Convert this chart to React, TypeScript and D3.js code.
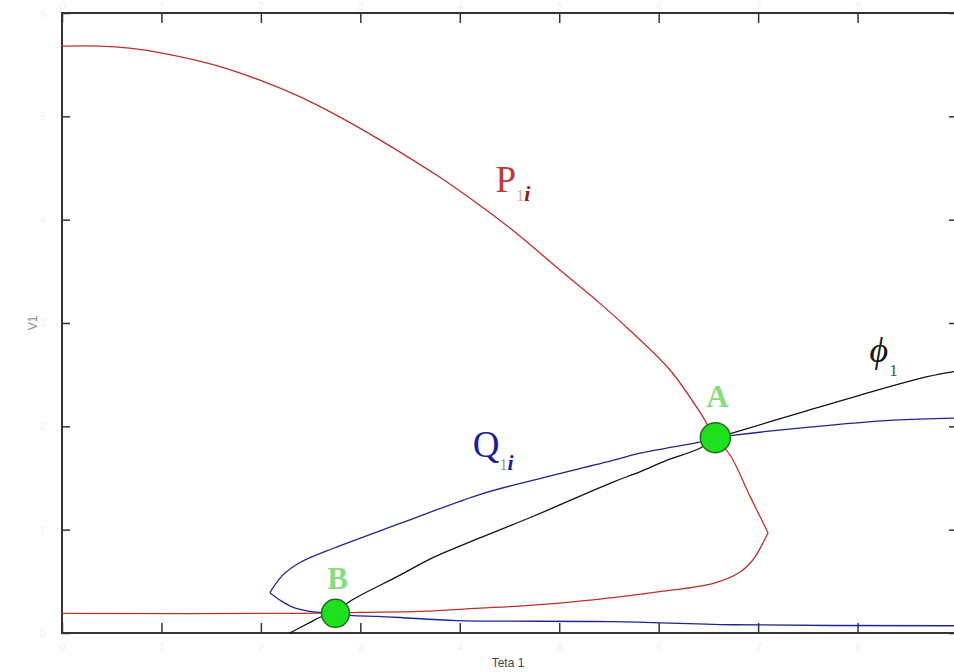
import React, { useRef, useEffect } from 'react';
import * as d3 from 'd3';

// curves (Teta 1 on x, V1 on y, arbitrary units)
const pCurve: [number, number][] = [
  [0, 5.68], [0.38, 5.68], [0.68, 5.66], [1.02, 5.61], [1.52, 5.5], [1.99, 5.35],
  [2.39, 5.19], [2.8, 4.99], [3.2, 4.77], [3.8, 4.41], [4.2, 4.14], [4.53, 3.9],
  [5.01, 3.51], [5.41, 3.19], [5.71, 2.93], [6.11, 2.55], [6.42, 2.13], [6.57, 1.89],
  [6.72, 1.72], [6.92, 1.32], [7.1, 0.97], [6.95, 0.71], [6.82, 0.59], [6.55, 0.48],
  [6.01, 0.4], [5.34, 0.32], [4.74, 0.27], [4.2, 0.24], [3.6, 0.21], [3.0, 0.2],
  [2.39, 0.19], [0, 0.19],
];

const qCurve: [number, number][] = [
  [8.97, 2.08], [8.36, 2.06], [7.49, 1.99], [6.72, 1.91], [6.57, 1.89], [6.42, 1.85],
  [6.08, 1.79], [5.81, 1.74], [5.54, 1.67], [4.74, 1.48], [4.2, 1.34], [3.4, 1.06],
  [2.73, 0.82], [2.39, 0.68], [2.22, 0.56], [2.09, 0.39], [2.19, 0.32], [2.32, 0.25],
  [2.49, 0.21], [2.75, 0.19], [2.9, 0.17], [3.17, 0.16], [3.4, 0.15], [3.97, 0.12],
  [5.54, 0.11], [6.75, 0.08], [8.97, 0.07],
];

const phiCurve: [number, number][] = [
  [2.29, 0], [2.49, 0.1], [2.59, 0.15], [2.75, 0.2], [2.9, 0.31], [3.4, 0.56],
  [3.73, 0.73], [4.2, 0.92], [4.74, 1.13], [5.54, 1.46], [5.81, 1.56], [6.08, 1.67],
  [6.42, 1.79], [6.57, 1.89], [6.72, 1.93], [7.42, 2.13], [8.02, 2.3], [8.7, 2.48],
  [8.97, 2.53],
];

const points = [
  { name: 'A', x: 6.57, y: 1.89 },
  { name: 'B', x: 2.75, y: 0.19 },
];

const xTicks = [0, 1, 2, 3, 4, 5, 6, 7, 8, 9];
const xTickLabels = ['0', '1', '2', '3', '4', '5', '6', '7', '8', ''];
const yTicks = [0, 1, 2, 3, 4, 5, 6];
const yTickLabels = ['0', '1', '2', '3', '4', '5', '6'];

const App = () => {
  const svgRef = useRef<SVGSVGElement>(null);

  useEffect(() => {
    const svg = d3.select(svgRef.current);
    svg.selectAll('*').remove();

    const width = 954;
    const height = 672;
    const margin = { top: 13, right: -3, bottom: 39, left: 62 };
    const innerWidth = width - margin.left - margin.right;
    const innerHeight = height - margin.top - margin.bottom;

    svg.attr('width', width).attr('height', height);

    const g = svg.append('g').attr('transform', `translate(${margin.left},${margin.top})`);

    const x = d3.scaleLinear().domain([0, 9]).range([0, innerWidth]);
    const y = d3.scaleLinear().domain([0, 6]).range([innerHeight, 0]);

    const faint = '#f2f2f2';
    const fmtX = (d: any) => xTickLabels[xTicks.indexOf(d)];
    const fmtY = (d: any) => yTickLabels[yTicks.indexOf(d)];

    const styleAxis = (sel: any) => {
      sel.select('.domain').remove();
      sel.selectAll('line').attr('stroke', '#333').attr('stroke-width', 1.5);
      sel.selectAll('text').attr('fill', faint).style('font-family', 'Liberation Sans, Arial, sans-serif').style('font-size', '11px');
    };

    g.append('g').attr('transform', `translate(0,${innerHeight})`)
      .call(d3.axisBottom(x).tickValues(xTicks).tickSize(-10).tickSizeOuter(0).tickPadding(10).tickFormat(fmtX))
      .call(styleAxis);
    g.append('g')
      .call(d3.axisTop(x).tickValues(xTicks).tickSize(-10).tickSizeOuter(0).tickPadding(3).tickFormat(fmtX))
      .call(styleAxis);
    g.append('g')
      .call(d3.axisLeft(y).tickValues(yTicks).tickSize(-8).tickSizeOuter(0).tickPadding(16).tickFormat(fmtY))
      .call(styleAxis);
    g.append('g').attr('transform', `translate(${innerWidth},0)`)
      .call(d3.axisRight(y).tickValues(yTicks).tickSize(-8).tickSizeOuter(0).tickFormat(() => ''))
      .call(styleAxis);

    // frame
    g.append('rect')
      .attr('x', 0).attr('y', 0)
      .attr('width', innerWidth).attr('height', innerHeight)
      .attr('fill', 'none').attr('stroke', '#333').attr('stroke-width', 2);

    const line = d3.line<[number, number]>()
      .x((d) => x(d[0]))
      .y((d) => y(d[1]))
      .curve(d3.curveCatmullRom.alpha(0.5));

    // split the curves at their turning points so the tips stay sharp
    const pTip = d3.maxIndex(pCurve, (d) => d[0]);
    const qTip = d3.minIndex(qCurve, (d) => d[0]);
    const segments = [
      { data: pCurve.slice(0, pTip + 1), color: '#b8302c' },
      { data: pCurve.slice(pTip), color: '#b8302c' },
      { data: qCurve.slice(0, qTip + 1), color: '#24248e' },
      { data: qCurve.slice(qTip), color: '#24248e' },
      { data: phiCurve, color: '#111' },
    ];

    g.selectAll('.curve')
      .data(segments)
      .enter().append('path')
      .attr('class', 'curve')
      .attr('d', (d) => line(d.data))
      .attr('fill', 'none')
      .attr('stroke', (d) => d.color)
      .attr('stroke-width', 1.3);

    // A and B
    g.selectAll('.pt')
      .data(points)
      .enter().append('circle')
      .attr('class', 'pt')
      .attr('cx', (d) => x(d.x))
      .attr('cy', (d) => y(d.y))
      .attr('r', (d) => (d.name === 'A' ? 15 : 14))
      .attr('fill', '#1fe01f')
      .attr('stroke', '#1f6a1f')
      .attr('stroke-width', 1.5);

    const serif = 'Liberation Serif, Times New Roman, serif';

    g.selectAll('.ptlabel')
      .data(points)
      .enter().append('text')
      .attr('class', 'ptlabel')
      .attr('x', (d) => x(d.x) + 2)
      .attr('y', (d) => y(d.y) - (d.name === 'A' ? 31 : 24))
      .attr('text-anchor', 'middle')
      .attr('fill', '#86dc7e')
      .style('font-family', serif)
      .style('font-weight', 'bold')
      .style('font-size', '31px')
      .text((d) => d.name);

    // P1i label
    const pl = g.append('text')
      .attr('x', x(4.36)).attr('y', y(4.27))
      .style('font-family', serif);
    pl.append('tspan').attr('fill', '#c03a3a').style('font-size', '37px').text('P');
    pl.append('tspan').attr('fill', '#e0a4a4').style('font-size', '16px').attr('dy', 9).text('1');
    pl.append('tspan').attr('fill', '#a01414').style('font-size', '22px').style('font-style', 'italic').style('font-weight', 'bold').text('i');

    // Q1i label
    const ql = g.append('text')
      .attr('x', x(4.13)).attr('y', y(1.7))
      .style('font-family', serif);
    ql.append('tspan').attr('fill', '#1c1c9c').style('font-size', '37px').text('Q');
    ql.append('tspan').attr('fill', '#7c98b4').style('font-size', '16px').attr('dy', 13).text('1');
    ql.append('tspan').attr('fill', '#1c1c9c').style('font-size', '22px').style('font-style', 'italic').style('font-weight', 'bold').text('i');

    // phi1 label
    const fl = g.append('text')
      .attr('x', x(8.12)).attr('y', y(2.62))
      .style('font-family', serif);
    fl.append('tspan').attr('fill', '#151515').style('font-size', '36px').style('font-style', 'italic').text('\u03d5');
    fl.append('tspan').attr('fill', '#2a5a50').style('font-size', '17px').attr('dx', 1).attr('dy', 14).text('1');

    // axis titles
    svg.append('text')
      .attr('x', 508).attr('y', 667)
      .attr('text-anchor', 'middle')
      .attr('fill', '#444')
      .style('font-family', 'Liberation Sans, Arial, sans-serif')
      .style('font-size', '12px')
      .text('Teta 1');

    svg.append('text')
      .attr('transform', 'translate(37,323) rotate(-90)')
      .attr('text-anchor', 'middle')
      .attr('fill', '#888')
      .style('font-family', 'Liberation Sans, Arial, sans-serif')
      .style('font-size', '12px')
      .text('V1');
  }, []);

  return (
    <div style={{ position: 'absolute', left: 0, top: 0, width: 954, height: 672, background: '#fff' }}>
      <svg ref={svgRef} style={{ display: 'block' }}></svg>
    </div>
  );
};

export default App;
